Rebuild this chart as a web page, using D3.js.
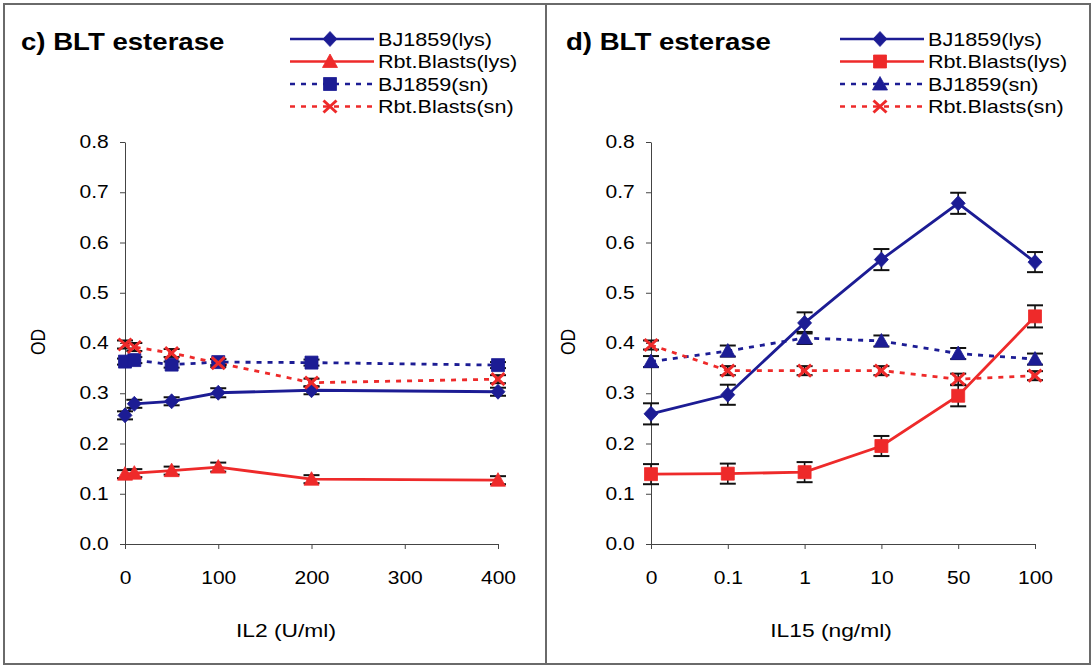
<!DOCTYPE html>
<html>
<head>
<meta charset="utf-8">
<script src="https://cdn.jsdelivr.net/npm/d3@7"></script>
<style>
  body { margin: 0; background: #fff; }
  text { font-family: "Liberation Sans", Arial, sans-serif; fill: #000; }
</style>
</head>
<body>
<div id="chart"></div>
<script>
// Frame
const FRAME_WIDTH = 1092;
const FRAME_HEIGHT = 667;
const SX = 1.2; // the scanned figure is stretched sideways, so text is too

// Panel c: IL2 doses (U/ml)
const il2Dose = [0, 10, 50, 100, 200, 400];
const il2Ticks = [0, 100, 200, 300, 400];
const cBjLys = [0.256, 0.279, 0.284, 0.301, 0.306, 0.303];
const cBjLysErr = [0.008, 0.008, 0.008, 0.009, 0.008, 0.008];
const cRbtLys = [0.139, 0.141, 0.146, 0.153, 0.129, 0.127];
const cRbtLysErr = [0.008, 0.008, 0.008, 0.009, 0.008, 0.008];
const cBjSn = [0.363, 0.366, 0.357, 0.362, 0.361, 0.356];
const cBjSnErr = [0.006, 0.006, 0.006, 0.006, 0.006, 0.006];
const cRbtSn = [0.397, 0.392, 0.380, 0.360, 0.321, 0.328];
const cRbtSnErr = [0.008, 0.008, 0.008, 0.008, 0.008, 0.008];

// Panel d: IL15 doses (ng/ml), plotted as categories
const il15Dose = ["0", "0.1", "1", "10", "50", "100"];
const dBjLys = [0.259, 0.297, 0.440, 0.566, 0.678, 0.561];
const dBjLysErr = [0.021, 0.020, 0.021, 0.021, 0.021, 0.020];
const dRbtLys = [0.139, 0.140, 0.143, 0.195, 0.295, 0.453];
const dRbtLysErr = [0.020, 0.020, 0.020, 0.020, 0.021, 0.022];
const dBjSn = [0.363, 0.384, 0.410, 0.404, 0.379, 0.368];
const dBjSnErr = [0.011, 0.011, 0.012, 0.011, 0.011, 0.011];
const dRbtSn = [0.396, 0.345, 0.345, 0.345, 0.328, 0.335];
const dRbtSnErr = [0.009, 0.009, 0.009, 0.009, 0.011, 0.009];

const yTicks = [0, 0.1, 0.2, 0.3, 0.4, 0.5, 0.6, 0.7, 0.8];

const BLUE = "#1c1c94";
const RED = "#ee2a2a";

const svg = d3.select("#chart").append("svg")
    .attr("width", FRAME_WIDTH)
    .attr("height", FRAME_HEIGHT);

// Scanned frame borders
svg.append("rect")
    .attr("x", 4).attr("y", 4)
    .attr("width", 1086).attr("height", 660)
    .attr("fill", "none").attr("stroke", "#6a6a6a").attr("stroke-width", 2);
svg.append("line")
    .attr("x1", 546).attr("x2", 546).attr("y1", 4).attr("y2", 664)
    .attr("stroke", "#6a6a6a").attr("stroke-width", 2);

const yScale = d3.scaleLinear().domain([0, 0.8]).range([544, 142]);

// text with the sideways stretch
function addText(g, x, y, str, size, anchor, extra) {
    return g.append("text")
        .attr("transform", "translate(" + x + "," + y + ") scale(" + SX + ",1)" + (extra || ""))
        .attr("font-size", size)
        .attr("text-anchor", anchor || "start")
        .text(str);
}

// marker paths around 0,0
function markerPath(type) {
    if (type === "diamond") return "M0,-7.5L7,0L0,7.5L-7,0Z";
    if (type === "square") return "M-6.5,-6.5H6.5V6.5H-6.5Z";
    if (type === "triangle") return "M0,-7.5L7.5,6L-7.5,6Z";
    return "M-6.5,-6L6.5,6M6.5,-6L-6.5,6";
}

function drawMarker(g, type, color, x, y) {
    const p = g.append("path")
        .attr("d", markerPath(type))
        .attr("transform", "translate(" + x + "," + y + ")");
    if (type === "x") {
        p.attr("fill", "none").attr("stroke", color).attr("stroke-width", 3);
    } else {
        p.attr("fill", color).attr("stroke", color).attr("stroke-width", 0.8);
    }
}

const panels = [
    {
        title: "c) BLT esterase", titleX: 21,
        xScale: d3.scaleLinear().domain([0, 400]).range([125, 498]),
        dose: il2Dose, ticks: il2Ticks,
        xLabel: "IL2 (U/ml)", xLabelX: 286, odX: 45,
        legendX: 290,
        series: [
            {name: "BJ1859(lys)", values: cBjLys, errs: cBjLysErr, color: BLUE, dashed: false, marker: "diamond"},
            {name: "Rbt.Blasts(lys)", values: cRbtLys, errs: cRbtLysErr, color: RED, dashed: false, marker: "triangle"},
            {name: "BJ1859(sn)", values: cBjSn, errs: cBjSnErr, color: BLUE, dashed: true, marker: "square"},
            {name: "Rbt.Blasts(sn)", values: cRbtSn, errs: cRbtSnErr, color: RED, dashed: true, marker: "x"}
        ]
    },
    {
        title: "d) BLT esterase", titleX: 566,
        xScale: d3.scalePoint().domain(il15Dose).range([651, 1035]),
        dose: il15Dose, ticks: il15Dose,
        xLabel: "IL15 (ng/ml)", xLabelX: 831, odX: 575,
        legendX: 840,
        series: [
            {name: "BJ1859(lys)", values: dBjLys, errs: dBjLysErr, color: BLUE, dashed: false, marker: "diamond"},
            {name: "Rbt.Blasts(lys)", values: dRbtLys, errs: dRbtLysErr, color: RED, dashed: false, marker: "square"},
            {name: "BJ1859(sn)", values: dBjSn, errs: dBjSnErr, color: BLUE, dashed: true, marker: "triangle"},
            {name: "Rbt.Blasts(sn)", values: dRbtSn, errs: dRbtSnErr, color: RED, dashed: true, marker: "x"}
        ]
    }
];

panels.forEach((p) => {
    const g = svg.append("g");
    const x = p.xScale;
    const x0 = x.range()[0];

    // Title
    addText(g, p.titleX, 50, p.title, 23).attr("font-weight", "bold");

    // Y axis
    const yAxis = g.append("g")
        .attr("transform", "translate(" + x0 + ",0)")
        .call(d3.axisLeft(yScale).tickValues(yTicks).tickFormat(d3.format(".1f")).tickSize(5).tickSizeOuter(0));
    yAxis.selectAll("text")
        .attr("font-size", 17.5)
        .attr("x", -13.5)
        .attr("transform", "scale(" + SX + ",1)");

    // X axis
    const xAxis = g.append("g")
        .attr("transform", "translate(0," + yScale(0) + ")")
        .call(d3.axisBottom(x).tickValues(p.ticks).tickSize(5).tickSizeOuter(0));
    xAxis.selectAll("text")
        .attr("font-size", 17.5)
        .attr("y", 40)
        .attr("dy", 0)
        .attr("transform", "scale(" + SX + ",1)");
    [yAxis, xAxis].forEach((a) => {
        a.attr("font-family", null);
        a.selectAll("path, line").attr("stroke", "#444");
    });

    // Axis titles
    addText(g, p.xLabelX, 637, p.xLabel, 19, "middle");
    addText(g, p.odX, 342, "OD", 17.5, "middle", " rotate(-90)");

    // Lines
    p.series.forEach((s) => {
        const line = d3.line()
            .x((d, i) => x(p.dose[i]))
            .y((d) => yScale(d));
        g.append("path")
            .datum(s.values)
            .attr("d", line)
            .attr("fill", "none")
            .attr("stroke", s.color)
            .attr("stroke-width", 2.8)
            .attr("stroke-dasharray", s.dashed ? "5,6" : null);
    });

    // Error bars, then markers
    p.series.forEach((s) => {
        s.values.forEach((v, i) => {
            const cx = x(p.dose[i]);
            const top = yScale(v + s.errs[i]);
            const bot = yScale(v - s.errs[i]);
            g.append("line")
                .attr("x1", cx).attr("x2", cx).attr("y1", top).attr("y2", bot)
                .attr("stroke", "#111").attr("stroke-width", 1.6);
            [top, bot].forEach((yy) => {
                g.append("line")
                    .attr("x1", cx - 8).attr("x2", cx + 8).attr("y1", yy).attr("y2", yy)
                    .attr("stroke", "#111").attr("stroke-width", 2);
            });
        });
    });
    p.series.forEach((s) => {
        s.values.forEach((v, i) => drawMarker(g, s.marker, s.color, x(p.dose[i]), yScale(v)));
    });

    // Legend
    p.series.forEach((s, i) => {
        const ly = 39 + i * 22.5;
        g.append("line")
            .attr("x1", p.legendX).attr("x2", p.legendX + 84)
            .attr("y1", ly).attr("y2", ly)
            .attr("stroke", s.color)
            .attr("stroke-width", 2.6)
            .attr("stroke-dasharray", s.dashed ? "5,6" : null);
        drawMarker(g, s.marker, s.color, p.legendX + 40, ly);
        addText(g, p.legendX + 88, ly + 6.5, s.name, 18);
    });
});
</script>
</body>
</html>
